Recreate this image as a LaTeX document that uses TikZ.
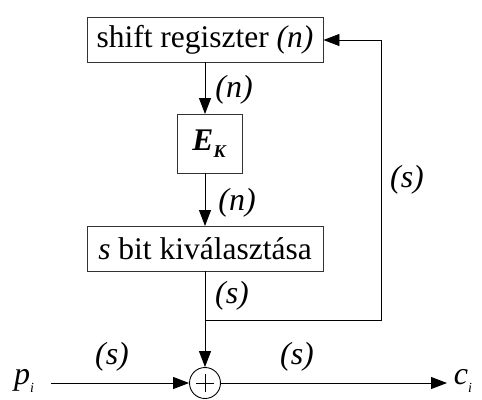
\documentclass[tikz,border=0pt]{standalone}
\usepackage{fontspec}
\setmainfont{Liberation Serif}
\usetikzlibrary{arrows.meta}
\begin{document}
\begin{tikzpicture}[x=1pt,y=-1pt,
  box/.style={draw=black!80,line width=0.9pt,inner sep=0pt,font=\fontsize{31.5}{36}\selectfont},
  lbl/.style={inner sep=0pt,font=\fontsize{32}{36}\selectfont\itshape},
  conn/.style={line width=0.9pt,-{Triangle[length=16pt,width=12pt]}},
  wire/.style={line width=0.9pt}]
\useasboundingbox (0,0) rectangle (482,399);
\node[box,minimum width=236pt,minimum height=45pt] (sr) at (205,39.5) {shift regiszter \textit{(n)}};
\node[box,minimum width=65pt,minimum height=59pt] (ek) at (209.5,143.5) {\textbf{\textit{E}}\raisebox{-0.45ex}{\fontsize{18}{18}\selectfont\textbf{\textit{K}}}};
\node[box,minimum width=236pt,minimum height=45pt] (sb) at (205,248.5) {\textit{s} bit kiválasztása};
\node[draw=black,line width=0.9pt,circle,minimum size=31pt,inner sep=0pt] (xor) at (205,383) {};
\draw[wire] ([xshift=-9pt]xor.center) -- ([xshift=9pt]xor.center);
\draw[wire] ([yshift=-9pt]xor.center) -- ([yshift=9pt]xor.center);
\node[lbl] (pi) at (24,381) {p\raisebox{-0.55ex}{\fontsize{14}{14}\selectfont\textit{i}}};
\node[lbl] (ci) at (463,381) {c\raisebox{-0.55ex}{\fontsize{14}{14}\selectfont\textit{i}}};
\coordinate (pin) at (51,383);
\coordinate (cout) at (447,383);
\coordinate (j) at (205,320);
\coordinate (c1) at (381,320);
\coordinate (c2) at (381,40);
\draw[conn] (205,62) -- (205,114);
\draw[conn] (205,173) -- (205,226);
\draw[conn] (sb.south) -- (xor.north);
\draw[wire] (j) -- (c1) -- (c2);
\draw[conn] (c2) -- (sr.east|-c2);
\draw[conn] (pin) -- (xor.west);
\draw[conn] (xor.east) -- (cout);
\node[lbl] (l1) at (234,90) {(n)};
\node[lbl] (l2) at (237,203) {(n)};
\node[lbl] (l3) at (232,296) {(s)};
\node[lbl] (l4) at (407,180) {(s)};
\node[lbl] (l5) at (112,357) {(s)};
\node[lbl] (l6) at (297,357) {(s)};
\end{tikzpicture}
\end{document}
